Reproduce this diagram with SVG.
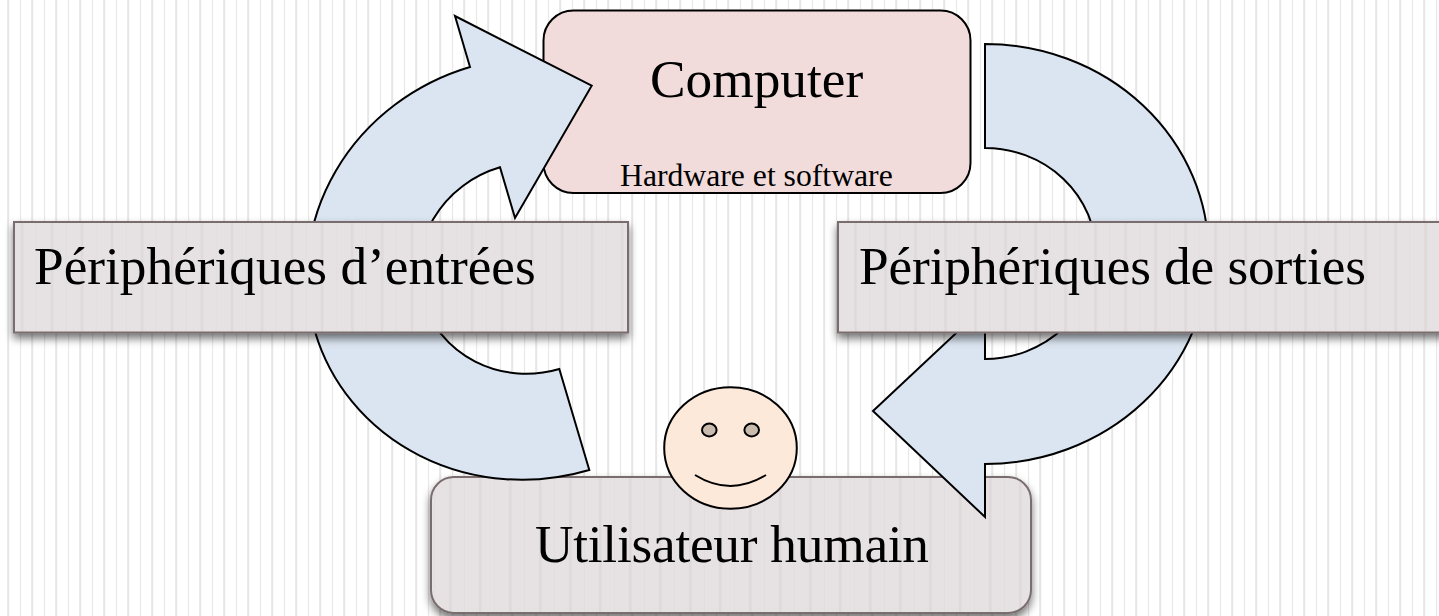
<svg xmlns="http://www.w3.org/2000/svg" width="1439" height="616" viewBox="0 0 1439 616">
<style>
text{font-family:"Liberation Serif","Times New Roman",serif;fill:#000}
.big{font-size:53.3px}
.small{font-size:31.7px}
.arrow{fill:#dbe5f1;stroke:#000;stroke-width:2;stroke-linejoin:miter}
.grey{stroke:#7a6d6e;stroke-width:2;filter:url(#shadow)}
.line{stroke:#000;stroke-width:2}
</style>
<defs>
<pattern id="bg" patternUnits="userSpaceOnUse" x="0" y="0" width="24" height="24">
<rect width="24" height="24" fill="#fff"/>
<rect x="7.2" width="2" height="24" fill="#e6e6e6"/>
<rect x="20" width="1.1" height="24" fill="#e8e8e8"/>
</pattern>
<pattern id="boxL" patternUnits="userSpaceOnUse" x="6.7" y="0" width="30" height="30">
<rect width="30" height="30" fill="#e6e1e2"/>
<rect x="14" width="2.6" height="30" fill="#dfd9da"/>
<rect x="29.4" width="1.2" height="30" fill="#e0dbdc"/>
</pattern>
<pattern id="boxR" patternUnits="userSpaceOnUse" x="0.3" y="0" width="30" height="30">
<rect width="30" height="30" fill="#e6e1e2"/>
<rect x="14" width="2.6" height="30" fill="#dfd9da"/>
<rect x="29.4" width="1.2" height="30" fill="#e0dbdc"/>
</pattern>
<pattern id="boxB" patternUnits="userSpaceOnUse" x="-15" y="0" width="30" height="30">
<rect width="30" height="30" fill="#e6e1e2"/>
<rect x="14" width="2.6" height="30" fill="#dfd9da"/>
<rect x="29.4" width="1.2" height="30" fill="#e0dbdc"/>
</pattern>
<filter id="shadow" x="-5%" y="-15%" width="110%" height="140%">
<feDropShadow dx="0" dy="5" stdDeviation="4" flood-color="#000" flood-opacity="0.55"/>
</filter>
</defs>
<rect id="background" width="1439" height="616" fill="url(#bg)"/>
<g id="computer">
<rect x="543.5" y="10.5" width="427" height="182.5" rx="30" ry="30" fill="#f2dcdb" stroke="#000" stroke-width="2"/>
<text class="big" x="650" y="97">Computer</text>
<text class="small" x="620" y="186">Hardware et software</text>
</g>
<g id="utilisateur">
<rect class="grey" x="431" y="477" width="600" height="136" rx="23" ry="23" fill="url(#boxB)"/>
<text class="big" x="535" y="562" textLength="394">Utilisateur humain</text>
</g>
<g id="connectors">
<path id="arrow-sortie" class="arrow" d="M985,44 A223.6,210 0 0 1 985,464 L985,517 L873,411 L985,306 L985,359 A111,105.5 0 0 0 985,148 Z"/>
<path id="arrow-entree" class="arrow" d="M589.3,470 A223.6,210 -16.5 0 1 470,67 L455,16 L591.7,85.7 L515,218 L500,167.3 A111,105 -16.5 0 0 559.3,369 Z"/>
</g>
<g id="entrees">
<rect class="grey" x="14" y="222" width="614" height="110.5" fill="url(#boxL)"/>
<text class="big" x="34" y="284">Périphériques d’entrées</text>
</g>
<g id="sorties">
<rect class="grey" x="838" y="222" width="610" height="110.5" fill="url(#boxR)"/>
<text class="big" x="859" y="284" textLength="507">Périphériques de sorties</text>
</g>
<g id="smiley">
<ellipse cx="730.5" cy="448" rx="66.3" ry="60.8" fill="#fde9d9" stroke="#000" stroke-width="2"/>
<ellipse cx="709.3" cy="430" rx="7.3" ry="6.5" fill="#c9bcae" stroke="#000" stroke-width="2"/>
<ellipse cx="751.7" cy="430" rx="7.3" ry="6.5" fill="#c9bcae" stroke="#000" stroke-width="2"/>
<path class="line" fill="none" d="M695,475 Q730.5,497 766,475"/>
</g>
</svg>
